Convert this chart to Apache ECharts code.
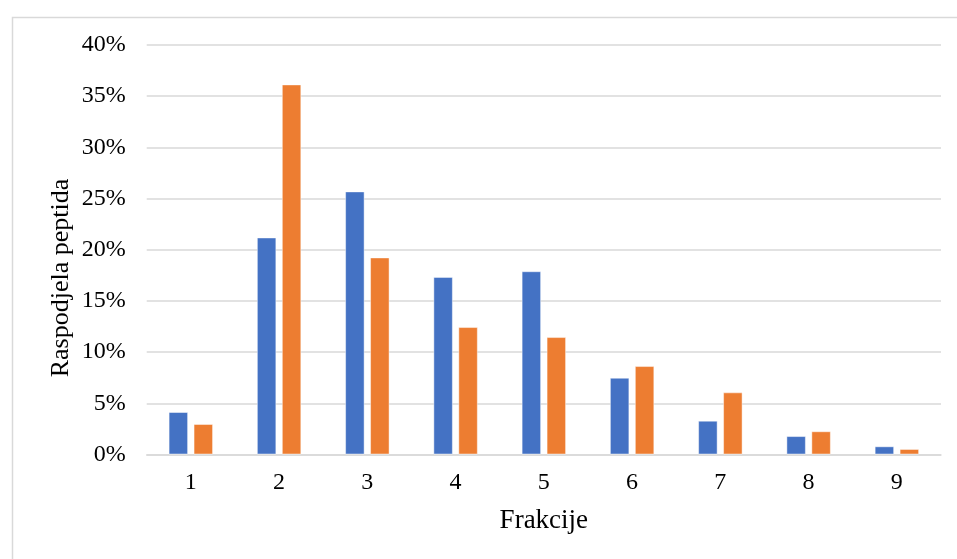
<!DOCTYPE html>
<html><head><meta charset="utf-8">
<script src="https://cdn.jsdelivr.net/npm/echarts@6/dist/echarts.min.js"></script>
<style>html,body{margin:0;padding:0;background:#fff}#c{width:957px;height:559px}</style>
</head><body><div id="c"></div>
<script>
const categories = ['1','2','3','4','5','6','7','8','9'];
const seriesA = [4.15, 21.2, 25.7, 17.35, 17.9, 7.5, 3.3, 1.8, 0.8];
const seriesB = [2.98, 36.15, 19.25, 12.45, 11.47, 8.64, 6.07, 2.27, 0.54];
const yTicks = [0, 5, 10, 15, 20, 25, 30, 35, 40];
const xTitle = 'Frakcije';
const yTitle = 'Raspodjela peptida';

const font = '"Liberation Serif", "Times New Roman", serif';
const chart = echarts.init(document.getElementById('c'), null, {renderer: 'canvas'});
chart.setOption({
  animation: false,
  backgroundColor: '#fff',
  textStyle: {fontFamily: font},
  graphic: [{
    type: 'rect', left: 10, top: 15, z: -1,
    shape: {width: 960, height: 560},
    style: {fill: 'none', stroke: '#d9d9d9', lineWidth: 1.5}
  }, {
    type: 'text', x: 61, y: 278, rotation: Math.PI / 2,
    style: {text: yTitle, fill: '#000', font: '26px ' + font,
      textAlign: 'center', textVerticalAlign: 'middle'}
  }],
  grid: {left: 146.7, right: 16, top: 45, bottom: 104.5, containLabel: false},
  xAxis: {
    type: 'category', data: categories,
    axisLine: {lineStyle: {color: '#d9d9d9', width: 1.5}},
    axisTick: {show: false},
    axisLabel: {color: '#000', fontSize: 24, fontFamily: font, margin: 16},
    name: xTitle, nameLocation: 'middle', nameGap: 53,
    nameTextStyle: {color: '#000', fontSize: 27, fontFamily: font}
  },
  yAxis: {
    type: 'value', min: yTicks[0], max: yTicks[yTicks.length-1], interval: 5,
    axisLine: {show: false}, axisTick: {show: false},
    splitLine: {lineStyle: {color: '#d9d9d9', width: 1.5}},
    axisLabel: {color: '#000', fontSize: 24, fontFamily: font, margin: 21,
      formatter: v => v + '%'}
  },
  series: [
    {type: 'bar', data: seriesA, barWidth: 19.5, barGap: '28%',
      itemStyle: {color: '#4472C4', borderColor: 'rgba(255,255,255,0.45)', borderWidth: 1}},
    {type: 'bar', data: seriesB, barWidth: 19.5, barGap: '28%',
      itemStyle: {color: '#ED7D31', borderColor: 'rgba(255,255,255,0.45)', borderWidth: 1}}
  ]
});
</script></body></html>
